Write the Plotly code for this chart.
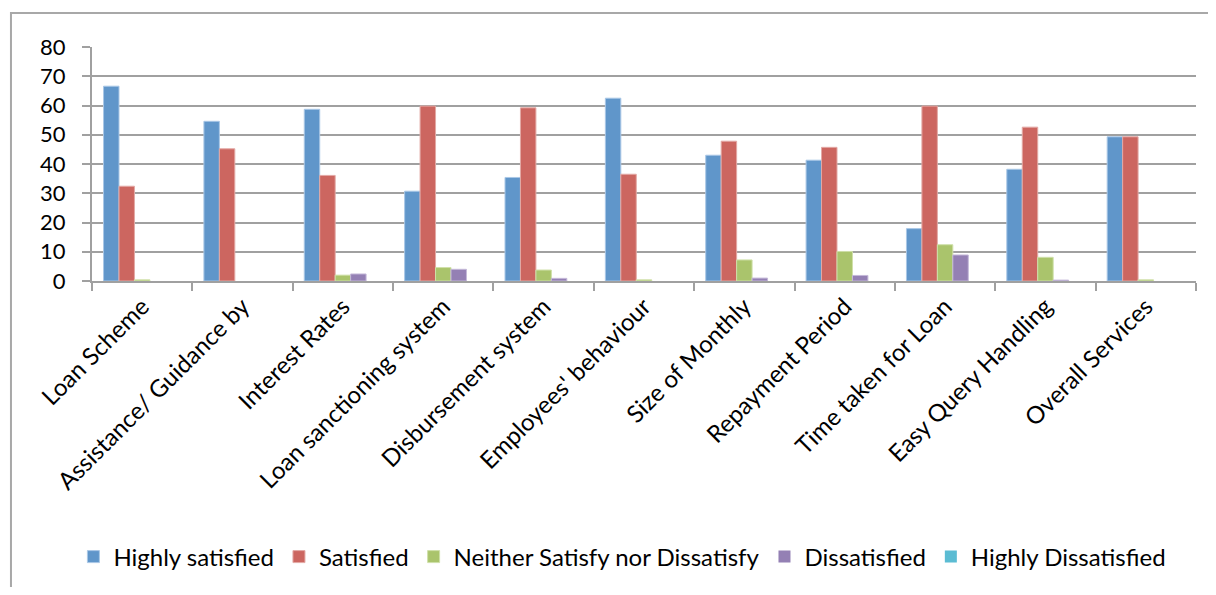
import plotly.graph_objects as go

categories = ["Loan Scheme", "Assistance/ Guidance by", "Interest Rates",
              "Loan sanctioning system", "Disbursement system", "Employees' behaviour",
              "Size of Monthly", "Repayment Period", "Time taken for Loan",
              "Easy Query Handling", "Overall Services"]

highly_satisfied = [66.6, 54.6, 58.7, 30.7, 35.4, 62.5, 43.0, 41.3, 17.9, 38.2, 49.3]
satisfied = [32.4, 45.2, 36.1, 59.8, 59.2, 36.5, 47.8, 45.7, 59.8, 52.6, 49.3]
neither = [0.4, 0, 2.0, 4.6, 3.75, 0.4, 7.2, 10.1, 12.4, 8.1, 0.4]
dissatisfied = [0, 0, 2.4, 4.0, 0.9, 0, 1.0, 1.9, 8.9, 0.3, 0]
highly_dissatisfied = [0, 0, 0, 0, 0, 0, 0, 0, 0, 0, 0]

series_names = ["Highly satisfied", "Satisfied", "Neither Satisfy nor Dissatisfy",
                "Dissatisfied", "Highly Dissatisfied"]
series_values = [highly_satisfied, satisfied, neither, dissatisfied, highly_dissatisfied]
colors = ["#6096CA", "#CC6660", "#AAC46C", "#9480B4", "#5BBCD3"]
edge_colors = ["#A9C7E6", "#E3A9A5", "#CFE0A9", "#C4B8D8", "#A6DCE8"]

FONT = "Lato, 'Open Sans', sans-serif"

fig = go.Figure()
for name, vals, c, ec in zip(series_names, series_values, colors, edge_colors):
    fig.add_trace(go.Bar(x=categories, y=vals, name=name,
                         marker=dict(color=c, line=dict(
                             color=ec, width=[1 if v > 0 else 0 for v in vals]))))

W, H = 1200, 579  # page body has an 8px margin

fig.update_layout(
    width=W, height=H,
    margin=dict(l=84, r=12, t=39, b=306),
    paper_bgcolor="white", plot_bgcolor="white",
    barmode="group", bargap=0.23, bargroupgap=0,
    font=dict(family=FONT, size=24, color="#000000"),
    showlegend=True,
    legend=dict(orientation="h", xref="container", yref="container",
                x=0.512, xanchor="center", y=1 - 549 / H, yanchor="middle",
                font=dict(family=FONT, size=24, color="#000000"),
                itemwidth=30, traceorder="normal", tracegroupgap=0),
    xaxis=dict(type="category", tickangle=-45, tickson="boundaries",
               ticks="outside", ticklen=8, tickcolor="#A0A0A0", tickwidth=2,
               showline=True, linecolor="#A0A0A0", linewidth=2, automargin=False,
               showgrid=False, tickfont=dict(family=FONT, size=24)),
    yaxis=dict(range=[0, 80], tick0=0, dtick=10,
               ticks="outside", ticklen=8, tickcolor="#A0A0A0", tickwidth=2,
               showline=True, linecolor="#A0A0A0", linewidth=2, automargin=False,
               showgrid=True, gridcolor="#A0A0A0", gridwidth=2,
               zeroline=False, ticklabelstandoff=12,
               tickfont=dict(family=FONT, size=22)),
    shapes=[dict(type="rect", xref="paper", yref="paper",
                 x0=-0.0734, y0=-3.0, x1=1.5, y1=1.145,
                 line=dict(color="#A8A8A8", width=2), fillcolor="rgba(0,0,0,0)",
                 layer="below")],
)

fig.write_html("out.html")
